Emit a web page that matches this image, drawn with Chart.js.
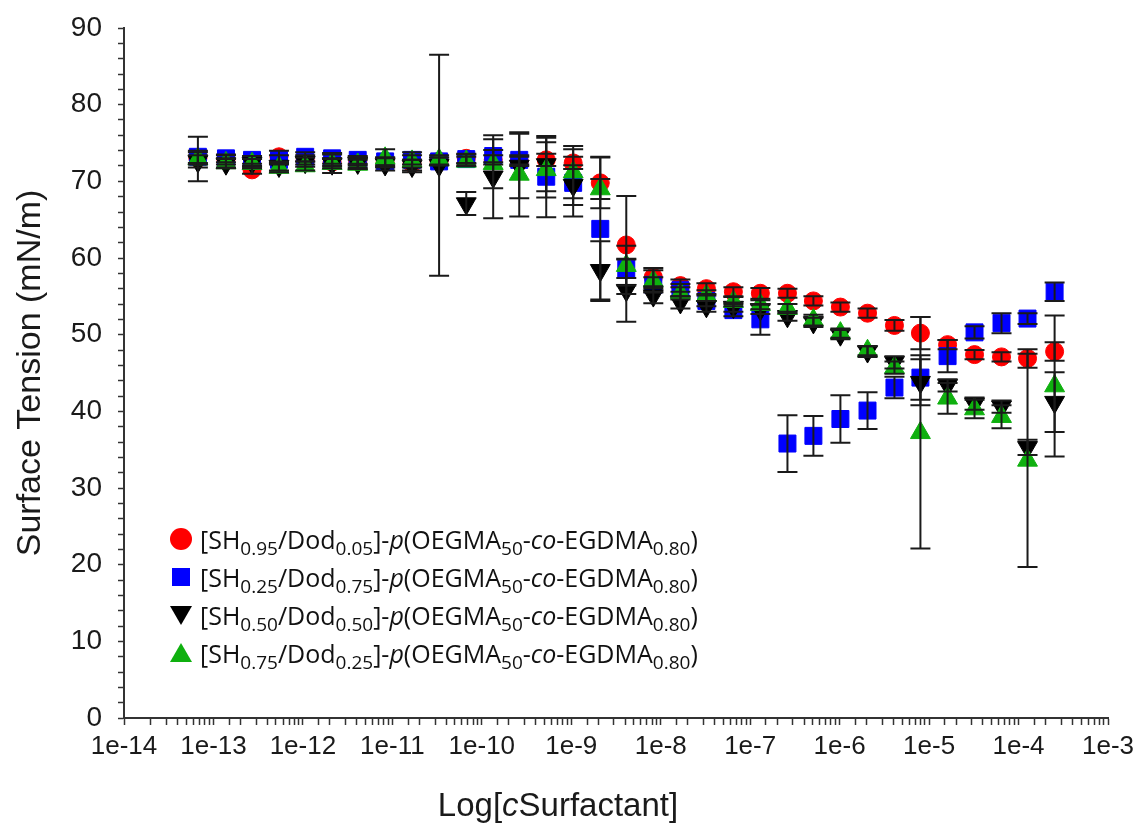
<!DOCTYPE html>
<html>
<head>
<meta charset="utf-8">
<script src="https://cdn.jsdelivr.net/npm/chart.js@4.4.1/dist/chart.umd.min.js"></script>
<style>
  body { margin: 0; background: #fff; }
  #wrap { position: relative; width: 1133px; height: 831px; }
  #legend { position: absolute; left: 168px; top: 520px; font-family: "Open Sans", "Noto Sans", sans-serif; font-size: 25px; color: #111; }
  #legend .row { height: 38px; display: flex; align-items: center; white-space: nowrap; }
  #legend .sb { font-size: 76%; position: relative; top: 0.32em; }
  #legend .mk { width: 26px; height: 26px; position: relative; margin-right: 6px; }
  #xtitle { position: absolute; top: 786px; left: 358px; width: 400px; text-align: center; font-family: "Liberation Sans", Arial, sans-serif; font-size: 33px; color: #1a1a1a; }
</style>
</head>
<body>
<div id="wrap">
  <canvas id="chart" width="1133" height="831"></canvas>
  <div id="legend"></div>
  <div id="xtitle">Log[<i>c</i>Surfactant]</div>
</div>
<script>
// concentrations (dilution series)
const xConc = [6.7e-14, 1.38e-13, 2.7e-13, 5.4e-13, 1.06e-12, 2.12e-12, 4.1e-12, 8.3e-12, 1.66e-11, 3.33e-11,
  6.7e-11, 1.34e-10, 2.62e-10, 5.25e-10, 1.05e-9, 2.11e-9, 4.12e-9, 8.26e-9, 1.66e-8, 3.24e-8,
  6.49e-8, 1.3e-7, 2.61e-7, 5.09e-7, 1.02e-6, 2.05e-6, 4.1e-6, 8.0e-6, 1.61e-5, 3.22e-5,
  6.45e-5, 1.26e-4, 2.53e-4];

const redY = [73.0, 72.8, 71.5, 73.2, 72.8, 72.5, 72.6, 72.5, 72.3, 72.6, 73.0, 72.8, 72.6, 72.8, 72.4, 69.8, 61.7,
  57.5, 56.4, 56.0, 55.6, 55.4, 55.4, 54.4, 53.6, 52.8, 51.2, 50.2, 48.7, 47.4, 47.1, 46.9, 47.8];
const redErr = [0.8, 0.6, 0.5, 0.8, 0.6, 0.5, 0.5, 0.6, 0.5, 0.5, 0.6, 0.6, 0.6, 0.8, 0.8, 3.3, 6.4,
  1.2, 0.8, 0.7, 0.6, 0.7, 0.6, 0.6, 0.6, 0.6, 0.7, 2.1, 0.6, 0.6, 0.6, 1.2, 1.2];

const blueY = [73.2, 73.0, 72.8, 72.8, 73.2, 73.0, 72.8, 72.6, 72.8, 72.6, 72.9, 73.3, 72.8, 70.6, 69.8, 63.8, 58.6,
  56.5, 55.8, 54.4, 53.2, 52.0, 35.8, 36.8, 39.0, 40.1, 43.1, 44.4, 47.2, 50.3, 51.5, 52.1, 55.6];
const blueErr = [0.8, 0.5, 0.5, 0.6, 0.6, 0.7, 0.5, 0.5, 0.6, 0.5, 0.6, 0.8, 0.6, 5.3, 4.4, 9.4, 1.2,
  1.0, 0.8, 0.7, 0.8, 2.0, 3.7, 2.6, 3.1, 2.4, 1.4, 2.9, 2.1, 0.8, 1.3, 0.7, 1.2];

const blackY = [72.6, 72.3, 72.4, 72.0, 72.5, 72.3, 72.4, 72.2, 72.0, 72.1, 67.1, 70.6, 72.0, 72.2, 69.5, 58.4, 55.8,
  55.1, 54.2, 53.7, 53.6, 53.3, 52.4, 51.6, 50.0, 47.8, 46.4, 43.8, 43.4, 41.0, 40.6, 35.3, 41.2];
const blackErr = [0.8, 0.6, 0.5, 0.6, 0.6, 1.2, 0.6, 0.8, 0.8, 14.4, 1.5, 5.4, 4.2, 3.5, 2.6, 3.8, 4.1,
  1.0, 0.8, 0.7, 0.6, 0.6, 0.6, 0.6, 0.6, 0.7, 0.8, 3.0, 0.8, 0.8, 0.8, 1.0, 3.9];

const greenY = [72.9, 72.4, 72.3, 71.8, 72.0, 72.3, 72.2, 73.0, 72.6, 72.8, 72.6, 72.3, 70.9, 71.5, 71.2, 69.0, 59.0,
  57.0, 55.4, 55.1, 54.3, 53.9, 53.4, 51.9, 50.2, 47.9, 45.7, 37.2, 41.7, 40.3, 39.3, 33.6, 43.3];
const greenErr = [2.9, 0.6, 0.6, 0.6, 0.6, 0.6, 0.6, 1.2, 1.2, 0.6, 0.6, 3.2, 5.5, 3.6, 3.4, 1.3, 2.6,
  1.4, 0.8, 0.7, 0.6, 0.6, 0.6, 0.7, 0.6, 0.6, 0.8, 15.1, 2.0, 1.2, 1.5, 13.9, 9.2];

const shFrac = ['0.95', '0.25', '0.50', '0.75'];
const dodFrac = ['0.05', '0.75', '0.50', '0.25'];
const xTickLabels = ['1e-14', '1e-13', '1e-12', '1e-11', '1e-10', '1e-9', '1e-8', '1e-7', '1e-6', '1e-5', '1e-4', '1e-3'];

const colors = ['#ff0000', '#0000ff', '#000000', '#0fb00f'];
const shapes = ['circle', 'rect', 'triangle', 'triangle'];
const allY = [redY, blueY, blackY, greenY];
const allErr = [redErr, blueErr, blackErr, greenErr];

function pts(ys) {
  return xConc.map((x, i) => ({ x: x, y: ys[i] }));
}

// legend (html, so subscripts and italics work)
let legendHtml = '';
for (let i = 0; i < 4; i++) {
  let mk;
  if (i == 0) mk = '<div style="position:absolute;left:2px;top:2px;width:22px;height:22px;border-radius:50%;background:' + colors[i] + '"></div>';
  else if (i == 1) mk = '<div style="position:absolute;left:4px;top:4px;width:18px;height:18px;background:' + colors[i] + '"></div>';
  else if (i == 2) mk = '<div style="position:absolute;left:2px;top:4px;width:0;height:0;border-left:11px solid transparent;border-right:11px solid transparent;border-top:19px solid ' + colors[i] + '"></div>';
  else mk = '<div style="position:absolute;left:2px;top:3px;width:0;height:0;border-left:11px solid transparent;border-right:11px solid transparent;border-bottom:19px solid ' + colors[i] + '"></div>';
  legendHtml += '<div class="row"><div class="mk">' + mk + '</div><span>[SH<span class="sb">' + shFrac[i] + '</span>/Dod<span class="sb">' + dodFrac[i] +
    '</span>]-<i>p</i>(OEGMA<span class="sb">50</span>-<i>co</i>-EGDMA<span class="sb">0.80</span>)</span></div>';
}
document.getElementById('legend').innerHTML = legendHtml;

const errorBars = {
  id: 'errorBars',
  afterDatasetsDraw(chart) {
    const c = chart.ctx;
    const xs = chart.scales.x, ys = chart.scales.y;
    c.save();
    c.strokeStyle = '#1a1a1a';
    c.lineWidth = 2;
    chart.data.datasets.forEach((ds, k) => {
      const err = allErr[k];
      ds.data.forEach((p, i) => {
        const px = xs.getPixelForValue(p.x);
        const top = ys.getPixelForValue(p.y + err[i]);
        const bot = ys.getPixelForValue(p.y - err[i]);
        c.beginPath();
        c.moveTo(px, top); c.lineTo(px, bot);
        c.moveTo(px - 10, top); c.lineTo(px + 10, top);
        c.moveTo(px - 10, bot); c.lineTo(px + 10, bot);
        c.stroke();
      });
    });
    c.restore();
  }
};

const fontFam = '"Liberation Sans", Arial, sans-serif';
const ctx = document.getElementById('chart').getContext('2d');
const myChart = new Chart(ctx, {
  type: 'scatter',
  data: {
    datasets: allY.map((ys, k) => ({
      data: pts(ys),
      pointStyle: shapes[k],
      rotation: k == 2 ? 180 : 0,
      pointRadius: k == 0 ? 9 : (k == 1 ? 12 : 11.5),
      backgroundColor: colors[k],
      borderColor: colors[k],
      borderWidth: 1,
      showLine: false,
      order: 4 - k
    }))
  },
  options: {
    responsive: false,
    animation: false,
    events: [],
    layout: { padding: { left: 10, right: 0, top: 28, bottom: 0 } },
    plugins: { legend: { display: false }, tooltip: { enabled: false } },
    scales: {
      x: {
        type: 'logarithmic',
        min: 1e-14,
        max: 1e-3,
        border: { color: '#333', width: 2 },
        grid: { drawOnChartArea: false, drawTicks: true, tickLength: 7, color: '#333', tickWidth: 1.5 },
        ticks: {
          autoSkip: false, maxRotation: 0, minRotation: 0, padding: 6,
          color: '#1a1a1a', font: { family: fontFam, size: 26 },
          callback: function (v) {
            const e = Math.log10(v);
            if (Math.abs(e - Math.round(e)) < 1e-6) return xTickLabels[Math.round(e) + 14];
            return '';
          }
        },
        afterFit: function (s) { s.height = 113; s.paddingRight = 25; }
      },
      y: {
        min: 0,
        max: 90,
        border: { color: '#333', width: 2 },
        grid: { drawOnChartArea: false, drawTicks: true, tickLength: 6, color: '#333', tickWidth: 1.5 },
        ticks: {
          stepSize: 2, autoSkip: false, padding: 16,
          color: '#1a1a1a', font: { family: fontFam, size: 28, lineHeight: 1 },
          callback: function (v) { return v % 10 == 0 ? v : ''; }
        },
        title: { display: true, text: 'Surface Tension (mN/m)', color: '#1a1a1a', font: { family: fontFam, size: 34 }, padding: 0 },
        afterFit: function (s) { s.width = 114; s.paddingTop = 0; }
      }
    }
  },
  plugins: [errorBars]
});
</script>
</body>
</html>
